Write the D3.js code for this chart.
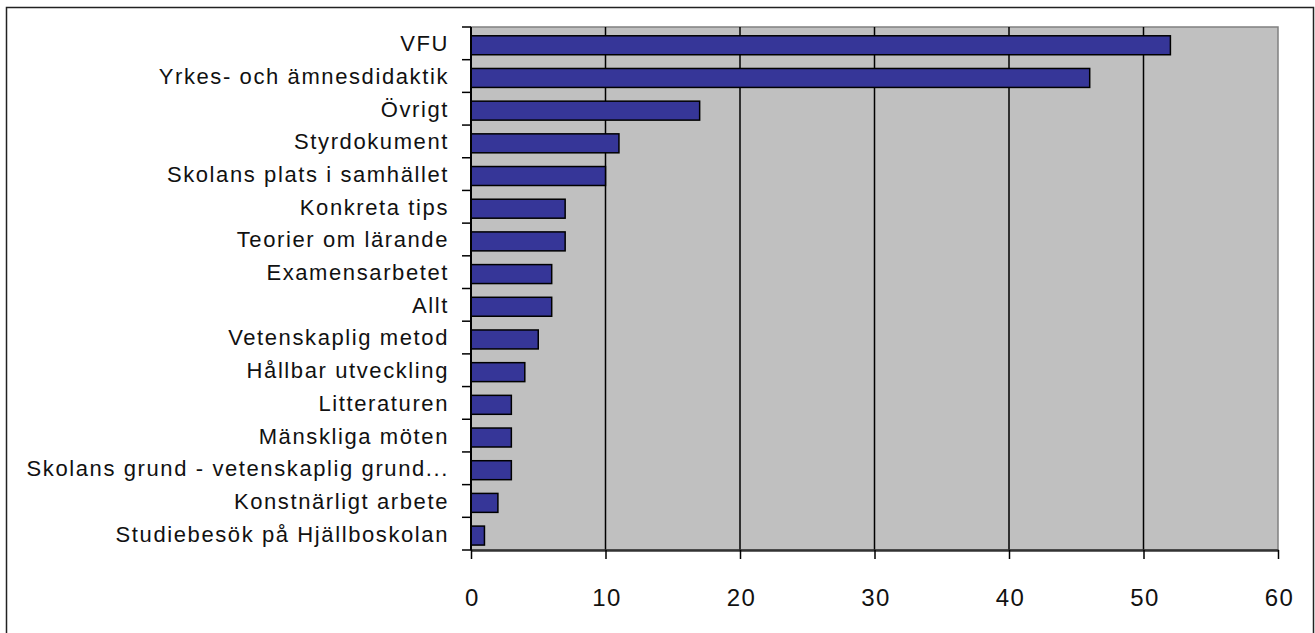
<!DOCTYPE html>
<html>
<head>
<meta charset="utf-8">
<script src="https://cdn.jsdelivr.net/npm/d3@7"></script>
<style>
  body { margin: 0; background: #fff; }
  text { font-family: "Liberation Sans", Arial, sans-serif; }
</style>
</head>
<body>
<div id="chart"></div>
<script>
// categories and counts, top to bottom
const categories = [
  "VFU", "Yrkes- och ämnesdidaktik", "Övrigt", "Styrdokument",
  "Skolans plats i samhället", "Konkreta tips", "Teorier om lärande",
  "Examensarbetet", "Allt", "Vetenskaplig metod", "Hållbar utveckling",
  "Litteraturen", "Mänskliga möten", "Skolans grund - vetenskaplig grund...",
  "Konstnärligt arbete", "Studiebesök på Hjällboskolan"
];
const counts = [52, 46, 17, 11, 10, 7, 7, 6, 6, 5, 4, 3, 3, 3, 2, 1];
const xTicks = [0, 10, 20, 30, 40, 50, 60];

const W = 1315, H = 633;
const margin = { top: 27, right: 37, bottom: 83, left: 471 },
      width  = W - margin.left - margin.right,
      height = H - margin.top - margin.bottom;

const svg = d3.select("#chart")
  .append("svg")
  .attr("width", W)
  .attr("height", H);

// outer frame
svg.append("rect")
  .attr("x", 6.5).attr("y", 7.5)
  .attr("width", 1307).attr("height", 640)
  .attr("fill", "none")
  .attr("stroke", "#222")
  .attr("stroke-width", 1.5);

const g = svg.append("g")
  .attr("transform", `translate(${margin.left}, ${margin.top})`);

const x = d3.scaleLinear().domain([0, 60]).range([0, width]);
// category slots (labels + ticks) and bars inside them
const slot = d3.scaleBand().domain(categories).range([0, height]);
const y = d3.scaleBand().domain(categories).range([0, height])
  .paddingInner(0.42).paddingOuter(0.21).align(0.64);

// plot area
g.append("rect")
  .attr("width", width).attr("height", height)
  .attr("fill", "#c0c0c0")
  .attr("stroke", "#808080")
  .attr("stroke-width", 1.5);

// gridlines
g.selectAll(".grid")
  .data(xTicks.slice(1, -1))
  .enter().append("line")
  .attr("x1", d => x(d)).attr("x2", d => x(d))
  .attr("y1", 0).attr("y2", height)
  .attr("stroke", "#000")
  .attr("stroke-width", 1.5);

// bars
g.selectAll(".bar")
  .data(categories)
  .enter().append("rect")
  .attr("x", 0)
  .attr("y", d => y(d))
  .attr("width", (d, i) => x(counts[i]))
  .attr("height", y.bandwidth())
  .attr("fill", "#363698")
  .attr("stroke", "#000")
  .attr("stroke-width", 1.5);

// x axis
const xAxis = g.append("g")
  .attr("transform", `translate(0, ${height})`)
  .call(d3.axisBottom(x).tickValues(xTicks).tickSize(9).tickSizeOuter(0).tickPadding(30));
xAxis.select(".domain").attr("stroke", "#333").attr("stroke-width", 2.5);
xAxis.selectAll(".tick line").attr("stroke", "#000").attr("stroke-width", 1.5);
xAxis.selectAll("text")
  .attr("font-size", 24)
  .attr("fill", "#111")
  .attr("dx", 1)
  .style("letter-spacing", "1.5px");

// y axis with slot-edge ticks
const yAxis = g.append("g");
yAxis.append("line")
  .attr("x1", 0).attr("x2", 0).attr("y1", 0).attr("y2", height)
  .attr("stroke", "#000").attr("stroke-width", 2);
yAxis.selectAll(".ytick")
  .data(categories.concat([null]))
  .enter().append("line")
  .attr("x1", -9).attr("x2", 0)
  .attr("y1", d => d === null ? height : slot(d))
  .attr("y2", d => d === null ? height : slot(d))
  .attr("stroke", "#000").attr("stroke-width", 1.5);
yAxis.selectAll(".ylabel")
  .data(categories)
  .enter().append("text")
  .attr("x", -22)
  .attr("y", d => slot(d) + slot.bandwidth() / 2)
  .attr("dy", "0.36em")
  .attr("text-anchor", "end")
  .attr("font-size", 22)
  .attr("fill", "#111")
  .style("letter-spacing", "1.6px")
  .text(d => d);
</script>
</body>
</html>
